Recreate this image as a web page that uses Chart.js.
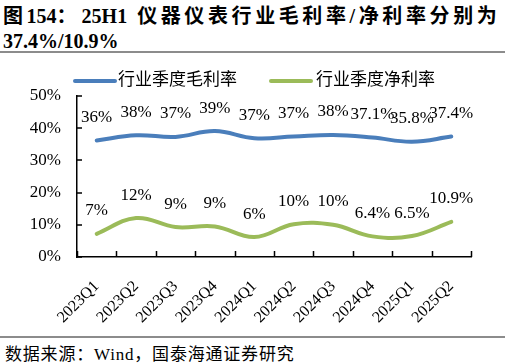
<!DOCTYPE html>
<html>
<head>
<meta charset="utf-8">
<script src="https://cdn.jsdelivr.net/npm/chart.js@4"></script>
<style>
  body { margin: 0; width: 510px; height: 363px; background: #fff; overflow: hidden; position: relative; }
  .title { position: absolute; left: 3px; top: 4px; font: bold 20px "Liberation Serif", "Noto Sans CJK SC"; line-height: 25px; color: #000; white-space: nowrap; }
  .title .cjk { letter-spacing: 3.6px; }
  .rule { position: absolute; left: 0; width: 505px; height: 2px; background: #8c8c8c; }
  .source { position: absolute; left: 5px; top: 340px; font: 17px "Liberation Serif", "Noto Sans CJK SC"; letter-spacing: 0.8px; color: #000; white-space: nowrap; }
  #wrap { position: absolute; left: 0; top: 56px; width: 510px; height: 280px; }
</style>
</head>
<body>
<div class="title"><span class="cjk">图</span>154：&nbsp;25H1&nbsp;&nbsp;<span class="cjk">仪器仪表行业毛利率/净利率分别为</span><br>37.4%/10.9%</div>
<div class="rule" style="top:51px"></div>
<div id="wrap"><canvas id="chart"></canvas></div>
<div class="rule" style="top:336px"></div>
<div class="source">数据来源：Wind，国泰海通证券研究</div>
<script>
const quarters = ["2023Q1", "2023Q2", "2023Q3", "2023Q4", "2024Q1", "2024Q2", "2024Q3", "2024Q4", "2025Q1", "2025Q2"];
const grossMargin = [36.2, 37.8, 37.3, 39.1, 36.9, 37.4, 37.9, 37.1, 35.8, 37.4];
const netMargin = [7.2, 12.1, 9.3, 9.5, 6.2, 10.2, 10.0, 6.4, 6.5, 10.9];
const grossLabels = ["36%", "38%", "37%", "39%", "37%", "37%", "38%", "37.1%", "35.8%", "37.4%"];
const netLabels = ["7%", "12%", "9%", "9%", "6%", "10%", "10%", "6.4%", "6.5%", "10.9%"];
const seriesNames = ["行业季度毛利率", "行业季度净利率"];

const FONT = '"Liberation Serif", "Noto Sans CJK SC"';
const pointLabels = [grossLabels, netLabels];

// value labels above each point + custom legend + inward tick marks
const extras = {
  id: "extras",
  afterDatasetsDraw(chart) {
    const ctx = chart.ctx;
    ctx.save();
    ctx.fillStyle = "#000";
    ctx.font = "17px " + FONT;
    ctx.textAlign = "center";
    ctx.textBaseline = "middle";
    chart.data.datasets.forEach((ds, i) => {
      chart.getDatasetMeta(i).data.forEach((pt, j) => {
        ctx.fillText(pointLabels[i][j], pt.x, pt.y - 23);
      });
    });

    // axes tick marks pointing inward
    const x = chart.scales.x, y = chart.scales.y;
    ctx.strokeStyle = "#000";
    ctx.lineWidth = 1.5;
    ctx.beginPath();
    for (let k = 0; k <= quarters.length; k++) {
      const px = Math.round(x.left + k * (x.right - x.left) / quarters.length) + 0.5;
      ctx.moveTo(px, y.bottom);
      ctx.lineTo(px, y.bottom - 6);
    }
    y.ticks.forEach(t => {
      const py = Math.round(y.getPixelForValue(t.value));
      ctx.moveTo(x.left, py);
      ctx.lineTo(x.left + 5, py);
    });
    ctx.stroke();

    // legend
    ctx.font = "17px " + FONT;
    ctx.textAlign = "left";
    const items = [[75, 118], [271, 316]];
    chart.data.datasets.forEach((ds, i) => {
      ctx.strokeStyle = ds.borderColor;
      ctx.lineWidth = 4;
      ctx.lineCap = "round";
      ctx.beginPath();
      ctx.moveTo(items[i][0], 25);
      ctx.lineTo(items[i][0] + 40, 25);
      ctx.stroke();
      ctx.fillText(ds.label, items[i][1], 25);
    });
    ctx.restore();
  }
};

new Chart(document.getElementById("chart").getContext("2d"), {
  type: "line",
  data: {
    labels: quarters,
    datasets: [
      { label: seriesNames[0], data: grossMargin, borderColor: "#4a7ebb", borderWidth: 4, pointRadius: 0, tension: 0.4, borderCapStyle: "round" },
      { label: seriesNames[1], data: netMargin, borderColor: "#9bbb59", borderWidth: 4, pointRadius: 0, tension: 0.4, borderCapStyle: "round" }
    ]
  },
  options: {
    responsive: true,
    maintainAspectRatio: false,
    animation: false,
    layout: { padding: { top: 40, right: 39, left: 0, bottom: 0 } },
    plugins: { legend: { display: false }, tooltip: { enabled: false } },
    scales: {
      x: {
        offset: true,
        grid: { display: false, drawTicks: false },
        border: { color: "#000", width: 1.5 },
        ticks: { color: "#000", font: { family: FONT, size: 16 }, minRotation: 45, maxRotation: 45, padding: 20 },
        afterFit(s) { s.height = 79; }
      },
      y: {
        min: 0, max: 50,
        grid: { display: false, drawTicks: false },
        border: { color: "#000", width: 1.5 },
        ticks: { stepSize: 10, color: "#000", font: { family: FONT, size: 17 }, padding: 16, callback: v => v + "%" },
        afterFit(s) { s.width = 77; }
      }
    }
  },
  plugins: [extras]
});
</script>
</body>
</html>
